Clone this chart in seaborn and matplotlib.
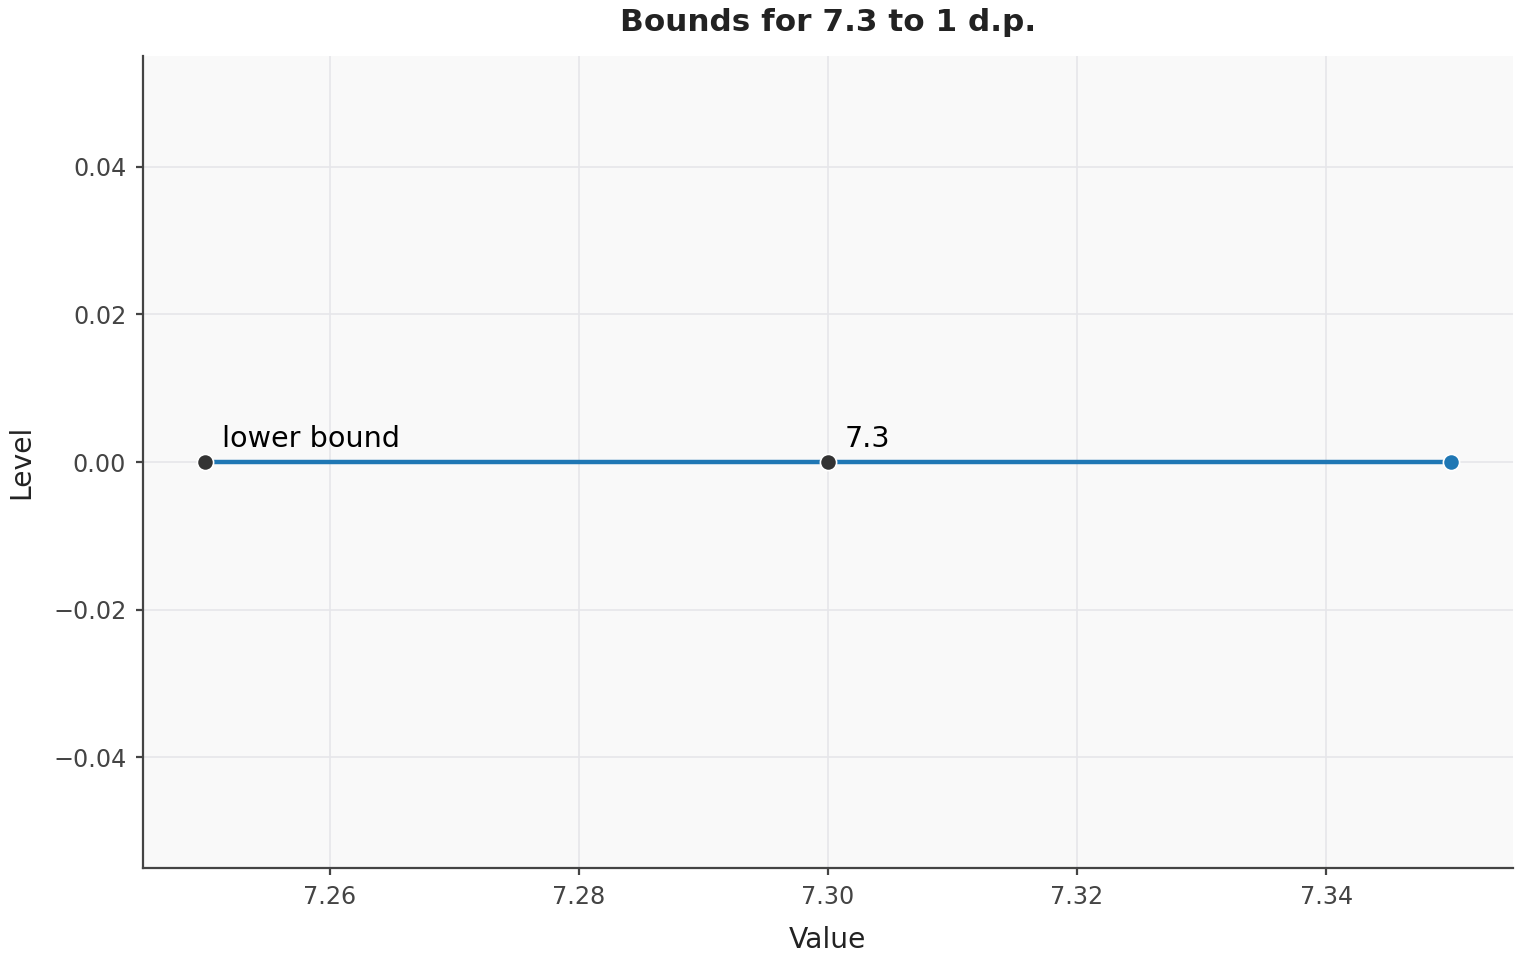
import matplotlib
matplotlib.use("Agg")
import matplotlib.pyplot as plt
import seaborn as sns
import pandas as pd

values = [7.25, 7.30, 7.35]
levels = [0.0, 0.0, 0.0]
point_labels = ["lower bound", "7.3", ""]
title = "Bounds for 7.3 to 1 d.p."

sns.set_theme(style="ticks")
plt.rcParams['font.family'] = ['DejaVu Sans']

df = pd.DataFrame({"Value": values, "Level": levels, "label": point_labels})

fig = plt.figure(figsize=(7.6, 4.8), dpi=200)
ax = fig.add_axes([0.094, 0.0958, 0.9014, 0.8459])
ax.set_facecolor("#f9f9f9")
ax.grid(True, color="#e6e6ea", linewidth=0.6)
ax.set_axisbelow(True)

sns.lineplot(data=df, x="Value", y="Level", ax=ax, color="#1f77b4", linewidth=1.6, zorder=2)
sns.scatterplot(data=df.iloc[:2], x="Value", y="Level", ax=ax, color="#333333", s=34,
                edgecolor="white", linewidth=0.6, zorder=3)
sns.scatterplot(data=df.iloc[2:], x="Value", y="Level", ax=ax, color="#1f77b4", s=34,
                edgecolor="white", linewidth=0.6, zorder=3)

for x, y, t in zip(values, levels, point_labels):
    if t:
        ax.annotate(t, (x, y), xytext=(6, 5.5), textcoords="offset points",
                    fontsize=10.3, color="black")

ax.set_title(title, fontsize=11.2, fontweight="bold", color="#222222", pad=9)
ax.set_xlabel("Value", fontsize=10.2, color="#222222", labelpad=6.2)
ax.set_ylabel("Level", fontsize=10.2, color="#222222", labelpad=6.3)
ax.tick_params(axis="both", labelsize=8.6, colors="#444444", length=2.5, width=0.8)
for s in ["top", "right"]:
    ax.spines[s].set_visible(False)
for s in ["left", "bottom"]:
    ax.spines[s].set_color("#444444")
    ax.spines[s].set_linewidth(0.8)

fig.savefig("out.png", dpi=200)
